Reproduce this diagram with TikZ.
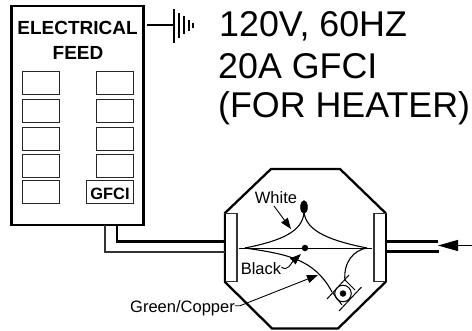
\documentclass[tikz,border=0pt]{standalone}
\usepackage{fontspec}
\setmainfont{Liberation Sans}
\usetikzlibrary{arrows.meta,calc,shapes.geometric}
\tikzset{
  slotbox/.style={draw=black!85,line width=1pt,fill=white,minimum width=37pt,minimum height=23pt,inner sep=0pt,outer sep=0pt},
  mid/.style={line width=1.4pt,draw=black},
  leader/.style={line width=0.9pt,draw=black,-{Triangle[length=11pt,width=8pt]}},
  lbl/.style={font=\fontsize{16.5}{16}\selectfont,inner sep=0pt,anchor=base,text=black},
  big/.style={font=\fontsize{35.8}{36}\selectfont,inner sep=0pt,anchor=base west,text=black},
  bold/.style={font=\bfseries,inner sep=0pt,anchor=base}
}
\begin{document}
\begin{tikzpicture}[x=1pt,y=-1pt]
\useasboundingbox (0,0) rectangle (472,330);
% panel
\node[draw=black,line width=2.2pt,minimum width=132pt,minimum height=219pt,inner sep=0pt,outer sep=0pt] (panel) at (77.5,115.5) {};
\node[bold,font=\fontsize{19}{19}\selectfont\bfseries] (t1) at (77.5,34) {ELECTRICAL};
\node[bold,font=\fontsize{19}{19}\selectfont\bfseries] (t2) at (78,59) {FEED};
\foreach \n/\xx/\yy in {a/41/82.5,b/41/110.5,c/41/138.5,d/41/165.5,e/41/191.5,f/115/82.5,g/115/110.5,h/115/138.5,i/115/165.5}
  \node[slotbox] (s\n) at (\xx,\yy) {};
\node[slotbox,minimum width=47pt] (gfci) at (110,191.5) {};
\node[bold,font=\fontsize{16.4}{16}\selectfont\bfseries] (gfcit) at (110,199) {GFCI};
% ground symbol
\coordinate (g0) at (174,25);
\draw[mid] (panel.east |- g0) ++(3,0) coordinate (g1) -- (g0);
\draw[line width=1.2pt] (174,9) -- (174,43);
\draw[line width=1.2pt] (179,13) -- (179,38);
\draw[line width=1.2pt] (184,16) -- (184,34);
\draw[line width=1.2pt] (189,20) -- (189,31);
\draw[line width=1.2pt] (193,23) -- (193,28);
% big text
\node[big] (l1) at (219,36) {120V, 60HZ};
\node[big] (l2) at (218,78) {20A GFCI};
\node[big] (l3) at (218,117.5) {(FOR HEATER)};
% octagon
\draw[line width=2.3pt,fill=white] (225,213) -- (271,169) -- (340,169) -- (385.5,213) -- (385.5,282) -- (338,328.5) -- (272,328.5) -- (225,282) -- cycle;
\node[draw=black!80,line width=1.1pt,fill=white,minimum width=12pt,minimum height=68pt,inner sep=0pt,outer sep=0pt] (lb) at (231,247.5) {};
\node[draw=black!80,line width=1.1pt,fill=white,minimum width=12pt,minimum height=68pt,inner sep=0pt,outer sep=0pt] (rb) at (380,247.5) {};
\draw[line width=2.3pt] (lb.north west) -- (lb.south west);
\draw[line width=2.3pt] (rb.north east) -- (rb.south east);
% feed wires
\coordinate (w1) at (117,225); \coordinate (w2) at (105,225);
\draw[line width=2.2pt] (w1) -- (117,241.5) -- (lb.west |- 0,241.5);
\draw[line width=1.6pt,black!80] (w2) -- (105,252) -- (lb.west |- 0,252);
\coordinate (r1) at (438,241.5); \coordinate (r2) at (439,251.5);
\draw[line width=2.2pt] (rb.east |- r1) -- (r1);
\draw[line width=2.2pt] (rb.east |- r2) -- (r2);
\coordinate (ae) at (472,245.5); \coordinate (at) at (438,245.5);
\draw[line width=1.1pt,-{Triangle[length=20pt,width=11pt]}] (ae) -- (at);
% inner wiring
\coordinate (cl) at (245,248); \coordinate (cr) at (367,248);
\draw[line width=1pt] (239,248) -- (372,248);
\draw[line width=1.1pt] (cl) .. controls (280,241) and (303,232) .. (304,212);
\draw[line width=1.1pt] (cr) .. controls (332,241) and (306,232) .. (304,212);
\draw[line width=1.1pt] (cl) .. controls (285,254) and (314,258) .. (332,292);
\draw[line width=1.1pt] (cr) .. controls (354,250) and (343,262) .. (345,281);
\node[draw,fill=black,ellipse,minimum width=7pt,minimum height=13pt,inner sep=0pt] at (304,207) {};
\node[circle,fill=black,minimum size=6.5pt,inner sep=0pt] (dot) at (305,248) {};
% screw
\node[circle,draw=black,line width=1pt,fill=white,minimum size=16.5pt,inner sep=0pt] (sc) at (343,293.5) {};
\node[circle,fill=black,minimum size=6.5pt,inner sep=0pt] at (343,293.5) {};
\draw[line width=1pt] (327,299) -- (349,275);
\draw[line width=1pt] (339,311) -- (361.5,287);
\draw[line width=1pt] (333,293) -- (342,305);
\draw[line width=1pt] (345,280) -- (355,290);
% labels
\node[lbl] (white) at (276,203) {White};
\node[lbl] (black) at (261,274) {Black};
\node[lbl,anchor=base east] (green) at (235,312) {Green/Copper};
\coordinate (wa) at (291,229);
\draw[leader] (274,206) -- (wa);
\draw[leader] (black.east) ++(0,-1) .. controls (288,272) and (291,263) .. (301,254);
\coordinate (ga) at (318,275);
\draw[leader] (green.east) ++(0,-2) -- ++(5,0) -- (ga);
\end{tikzpicture}
\end{document}
